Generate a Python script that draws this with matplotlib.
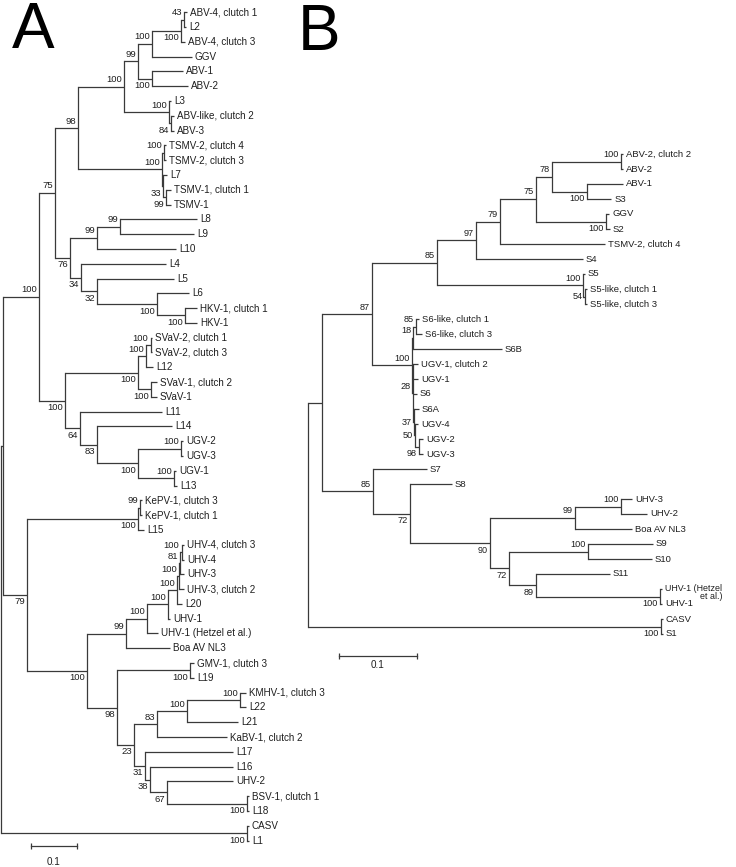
import matplotlib
matplotlib.use("Agg")
from matplotlib import pyplot as plt

# ---------------- tree A ----------------
a_leaves = ["ABV-4, clutch 1", "L2", "ABV-4, clutch 3", "GGV", "ABV-1", "ABV-2", "L3",
            "ABV-like, clutch 2", "ABV-3", "TSMV-2, clutch 4", "TSMV-2, clutch 3", "L7",
            "TSMV-1, clutch 1", "TSMV-1", "L8", "L9", "L10", "L4", "L5", "L6",
            "HKV-1, clutch 1", "HKV-1", "SVaV-2, clutch 1", "SVaV-2, clutch 3", "L12",
            "SVaV-1, clutch 2", "SVaV-1", "L11", "L14", "UGV-2", "UGV-3", "UGV-1", "L13",
            "KePV-1, clutch 3", "KePV-1, clutch 1", "L15", "UHV-4, clutch 3", "UHV-4",
            "UHV-3", "UHV-3, clutch 2", "L20", "UHV-1", "UHV-1 (Hetzel et al.)",
            "Boa AV NL3", "GMV-1, clutch 3", "L19", "KMHV-1, clutch 3", "L22", "L21",
            "KaBV-1, clutch 2", "L17", "L16", "UHV-2", "BSV-1, clutch 1", "L18", "CASV", "L1"]
a_leaf_depth = [0.405, 0.403, 0.401, 0.416, 0.397, 0.408, 0.371, 0.377, 0.377, 0.360,
                0.360, 0.362, 0.371, 0.371, 0.427, 0.421, 0.382, 0.360, 0.377, 0.410,
                0.427, 0.427, 0.330, 0.330, 0.332, 0.340, 0.340, 0.351, 0.373, 0.397,
                0.397, 0.382, 0.384, 0.308, 0.308, 0.312, 0.399, 0.399, 0.399, 0.399,
                0.395, 0.369, 0.342, 0.369, 0.421, 0.421, 0.534, 0.534, 0.516, 0.492,
                0.505, 0.505, 0.505, 0.540, 0.540, 0.540, 0.540]

a_node_ids = ["root", "nCA", "n1", "nIn", "n75", "n98", "n100c", "n99", "n100d", "nAB4",
              "n43", "nAB12", "nL3", "n84", "nTS", "nT2", "n33", "nT1", "n76", "n99a",
              "n99b", "n34", "n32", "nL6", "nHK", "n100b", "nSV", "nSV2b", "nSV2a", "nSV1",
              "n64", "n83u", "nUG", "nUG23", "nUG1", "n79", "nKe", "nKe2", "n87", "n99u",
              "n100v", "n100w", "n100x", "n100y", "n81", "nUH4", "n98b", "nGM", "n23",
              "n83", "n100k", "nKM", "n31", "n38", "n67", "nBS"]
a_node_kids = [("n1", "nCA"), ("CASV", "L1"), ("nIn", "n79"), ("n75", "n100b"),
               ("n98", "n76"), ("n100c", "nTS"), ("n99", "nL3"), ("n100d", "nAB12"),
               ("nAB4", "GGV"), ("n43", "ABV-4, clutch 3"), ("ABV-4, clutch 1", "L2"),
               ("ABV-1", "ABV-2"), ("L3", "n84"), ("ABV-like, clutch 2", "ABV-3"),
               ("nT2", "n33"), ("TSMV-2, clutch 4", "TSMV-2, clutch 3"), ("L7", "nT1"),
               ("TSMV-1, clutch 1", "TSMV-1"), ("n99a", "n34"), ("n99b", "L10"),
               ("L8", "L9"), ("L4", "n32"), ("L5", "nL6"), ("L6", "nHK"),
               ("HKV-1, clutch 1", "HKV-1"), ("nSV", "n64"), ("nSV2b", "nSV1"),
               ("nSV2a", "L12"), ("SVaV-2, clutch 1", "SVaV-2, clutch 3"),
               ("SVaV-1, clutch 2", "SVaV-1"), ("L11", "n83u"), ("L14", "nUG"),
               ("nUG23", "nUG1"), ("UGV-2", "UGV-3"), ("UGV-1", "L13"), ("nKe", "n87"),
               ("nKe2", "L15"), ("KePV-1, clutch 3", "KePV-1, clutch 1"), ("n99u", "n98b"),
               ("n100v", "Boa AV NL3"), ("n100w", "UHV-1 (Hetzel et al.)"), ("n100x", "UHV-1"),
               ("n100y", "L20"), ("n81", "UHV-3, clutch 2"), ("nUH4", "UHV-3"),
               ("UHV-4, clutch 3", "UHV-4"), ("nGM", "n23"), ("GMV-1, clutch 3", "L19"),
               ("n83", "n31"), ("n100k", "KaBV-1, clutch 2"), ("nKM", "L21"),
               ("KMHV-1, clutch 3", "L22"), ("L17", "n38"), ("L16", "n67"), ("UHV-2", "nBS"),
               ("BSV-1, clutch 1", "L18")]
a_node_depth = [0.0, 0.536, 0.0054, 0.0837, 0.1185, 0.1685, 0.2685, 0.299, 0.3293, 0.3924,
                0.3989, 0.3293, 0.3663, 0.3717, 0.3511, 0.3565, 0.3543, 0.3598, 0.1511, 0.2098,
                0.2598, 0.175, 0.2098, 0.3402, 0.4011, 0.1402, 0.299, 0.3163, 0.3261, 0.3272,
                0.1728, 0.2098, 0.299, 0.3924, 0.3772, 0.0576, 0.299, 0.3043, 0.188, 0.2728,
                0.3185, 0.3641, 0.3837, 0.388, 0.3902, 0.3935, 0.2533, 0.412, 0.2902,
                0.3402, 0.4054, 0.5207, 0.3141, 0.325, 0.362, 0.5359]
a_node_boot = [None, 100, None, 100, 75, 98, 100, 99, 100, 100,
               43, 100, 100, 84, 100, 100, 33, 99, 76, 99,
               99, 34, 32, 100, 100, 100, 100, 100, 100, 100,
               64, 83, 100, 100, 100, 79, 100, 99, 100, 99,
               100, 100, 100, 100, 81, 100, 98, 100, 23,
               83, 100, 100, 31, 38, 67, 100]

# ---------------- tree B ----------------
b_leaves = ["ABV-2, clutch 2", "ABV-2", "ABV-1", "S3", "GGV", "S2", "TSMV-2, clutch 4", "S4",
            "S5", "S5-like, clutch 1", "S5-like, clutch 3", "S6-like, clutch 1",
            "S6-like, clutch 3", "S6B", "UGV-1, clutch 2", "UGV-1", "S6", "S6A", "UGV-4",
            "UGV-2", "UGV-3", "S7", "S8", "UHV-3", "UHV-2", "Boa AV NL3", "S9", "S10", "S11",
            "UHV-1 (Hetzel et al.)", "UHV-1", "CASV", "S1"]
b_leaf_depth = [0.4075, 0.4075, 0.4075, 0.3926, 0.3894, 0.3907, 0.3842, 0.3558, 0.3583,
                0.3609, 0.3609, 0.1436, 0.1475, 0.251, 0.1423, 0.1423, 0.141, 0.1436, 0.1423,
                0.1488, 0.1488, 0.1539, 0.1863, 0.4191, 0.4386, 0.4191, 0.4463, 0.445, 0.3907,
                0.458, 0.458, 0.4592, 0.4592]

b_node_ids = ["root", "mCA", "mBig", "m87", "m85", "m97", "m79", "m75", "m78", "mAB2",
              "mAB1", "mGG", "mS5", "m54", "m100s", "m18", "m85s", "m28", "m37", "m50",
              "m98", "m85b", "m72a", "m90", "m99", "mUH", "m72b", "mS9", "m89", "mUH1"]
b_node_kids = [("mBig", "mCA"), ("CASV", "S1"), ("m87", "m85b"), ("m85", "m100s"),
               ("m97", "mS5"), ("m79", "S4"), ("m75", "TSMV-2, clutch 4"), ("m78", "mGG"),
               ("mAB2", "mAB1"), ("ABV-2, clutch 2", "ABV-2"), ("ABV-1", "S3"), ("GGV", "S2"),
               ("S5", "m54"), ("S5-like, clutch 1", "S5-like, clutch 3"), ("m18", "m28"),
               ("m85s", "S6B"), ("S6-like, clutch 1", "S6-like, clutch 3"),
               ("UGV-1, clutch 2", "UGV-1", "S6", "m37"), ("S6A", "m50"), ("UGV-4", "m98"),
               ("UGV-2", "UGV-3"), ("S7", "m72a"), ("S8", "m90"), ("m99", "m72b"),
               ("mUH", "Boa AV NL3"), ("UHV-3", "UHV-2"), ("mS9", "m89"), ("S9", "S10"),
               ("S11", "mUH1"), ("UHV-1 (Hetzel et al.)", "UHV-1")]
b_node_depth = [0.0, 0.4567, 0.0177, 0.0828, 0.1669, 0.2173, 0.2484, 0.295, 0.3157, 0.4049,
                0.3609, 0.3855, 0.3558, 0.3583, 0.1342, 0.1358, 0.1397, 0.1352, 0.1371, 0.1384,
                0.1436, 0.0841, 0.132, 0.2354, 0.3454, 0.4049, 0.26, 0.3622, 0.295, 0.4554]
b_node_boot = [None, 100, None, 87, 85, 97, 79, 75, 78, 100,
               100, 100, 100, 54, 100, 18, 85, 28, 37, 50,
               98, 85, 72, 90, 99, 100, 72, 100, 89, 100]

# where each bootstrap value sits: above / below the branch, or level with it
a_boot_side = ["", "b", "", "a", "a", "a", "a", "a", "a", "b",
               "a", "b", "a", "b", "a", "a", "b", "b", "b", "a",
               "a", "b", "b", "b", "b", "b", "b", "a", "a", "b",
               "b", "b", "b", "a", "a", "b", "b", "a", "b", "a",
               "a", "a", "a", "a", "a", "a", "b", "b", "b",
               "a", "a", "a", "b", "b", "b", "b"]
b_boot_side = ["", "b", "", "a", "a", "a", "a", "a", "a", "a",
               "b", "b", "a", "m", "a", "a", "a", "a", "m", "m",
               "b", "a", "b", "b", "a", "a", "b", "a", "b", "b"]

LINE = "#3a3a3a"
TEXT = "#1e1e1e"
FONT = "Liberation Sans"
PT = 0.72  # points per pixel at 100 dpi


def draw_tree(ax, leaves, leaf_depth, node_ids, node_kids, node_depth, node_boot, sides,
              leaf_size, boot_size):
    ypos = {name: i for i, name in enumerate(leaves)}
    xpos = dict(zip(leaves, leaf_depth))
    xpos.update(zip(node_ids, node_depth))
    kids = dict(zip(node_ids, node_kids))

    def place(n):
        if n not in ypos:
            ys = [place(k) for k in kids[n]]
            ypos[n] = (ys[0] + ys[-1]) / 2
        return ypos[n]

    place(node_ids[0])

    for n in node_ids:
        ks = kids[n]
        ax.plot([xpos[n], xpos[n]], [ypos[ks[0]], ypos[ks[-1]]], color=LINE, lw=0.9,
                solid_capstyle="projecting", clip_on=False)
        for k in ks:
            ax.plot([xpos[n], xpos[k]], [ypos[k], ypos[k]], color=LINE, lw=0.9,
                    solid_capstyle="butt", clip_on=False)

    for n, b, s in zip(node_ids, node_boot, sides):
        if b is None:
            continue
        dy = {"a": 7, "b": -7, "m": 0}[s] * PT
        ax.annotate(str(b), (xpos[n], ypos[n]), xytext=(-2 * PT, dy), textcoords="offset points",
                    ha="right", va="center", fontsize=boot_size, family=FONT, color=TEXT)

    labels = {}
    for name in leaves:
        labels[name] = ax.annotate(name, (xpos[name], ypos[name]), xytext=(3 * PT, 0),
                                   textcoords="offset points", ha="left", va="center",
                                   fontsize=leaf_size, family=FONT, color=TEXT)
    return labels


fig = plt.figure(figsize=(7.36, 8.67), dpi=100)

# tree A: root at x=0.5px, 0.1 = 46px; leaves from y=12.3px every 14.79px
ax_a = fig.add_axes([0, 0, 1, 1])
ax_a.set_axis_off()
ax_a.set_xlim(-0.5 / 460, 735.5 / 460)
ax_a.set_ylim((867 - 12.3) / 14.79, -12.3 / 14.79)
draw_tree(ax_a, a_leaves, a_leaf_depth, a_node_ids, a_node_kids, a_node_depth,
          a_node_boot, a_boot_side, 7.1, 6.8)
ax_a.plot([0.0663, 0.1663], [56.35, 56.35], color=LINE, lw=0.9, marker="|", ms=5, mew=0.9)
ax_a.text(0.1163, 57.45, "0.1", ha="center", va="center", fontsize=7.1, family=FONT, color=TEXT)

# tree B: root at x=308px, 0.1 = 77.3px; leaves from y=154px every 15px
ax_b = fig.add_axes([0, 0, 1, 1])
ax_b.set_axis_off()
ax_b.set_xlim(-308 / 773, 428 / 773)
ax_b.set_ylim((867 - 154) / 15, -154 / 15)
b_labels = draw_tree(ax_b, b_leaves, b_leaf_depth, b_node_ids, b_node_kids, b_node_depth,
                     b_node_boot, b_boot_side, 6.8, 6.6)
hetzel = b_labels["UHV-1 (Hetzel et al.)"]
hetzel.set_text("UHV-1 (Hetzel\net al.)")
hetzel.set_multialignment("right")
hetzel.set_fontsize(6.4)
hetzel.set_linespacing(0.8)
hetzel.xyann = (3 * PT, -3.5 * PT)
ax_b.plot([0.0405, 0.1405], [33.45, 33.45], color=LINE, lw=0.9, marker="|", ms=5, mew=0.9)
ax_b.text(0.0905, 34.07, "0.1", ha="center", va="center", fontsize=7.1, family=FONT, color=TEXT)

fig.text(12 / 736, 1 - 48 / 867, "A", fontsize=46, family=FONT, va="baseline", color="black")
fig.text(298 / 736, 1 - 50 / 867, "B", fontsize=46, family=FONT, va="baseline", color="black")

fig.savefig("out.png", dpi=100, facecolor="white")
